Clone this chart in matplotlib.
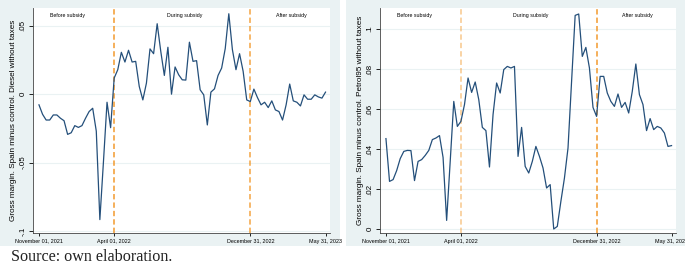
import numpy as np
import pandas as pd
import matplotlib
matplotlib.use("Agg")
import matplotlib.pyplot as plt
import matplotlib.transforms as mtransforms

# Weekly series
diesel = [-0.0078, -0.0147, -0.0189, -0.0189, -0.0152, -0.0152, -0.0176, -0.0194,
          -0.0294, -0.0282, -0.0230, -0.0243, -0.0230, -0.0176, -0.0127, -0.0103,
          -0.0270, -0.0917, -0.0495, -0.0059, -0.0245, 0.0118, 0.0179, 0.0306,
          0.0235, 0.0321, 0.0235, 0.0240, 0.0056, -0.0042, 0.0081, 0.0331,
          0.0296, 0.0515, 0.0314, 0.0137, 0.0343, 0.0000, 0.0199, 0.0142,
          0.0105, 0.0103, 0.0380, 0.0240, 0.0245, 0.0032, -0.0005, -0.0225,
          0.0015, 0.0039, 0.0137, 0.0191, 0.0333, 0.0588, 0.0326, 0.0179,
          0.0296, 0.0167, -0.0042, -0.0054, 0.0037, -0.0025, -0.0078, -0.0059,
          -0.0098, -0.0049, -0.0115, -0.0127, -0.0189, -0.0078, 0.0074, -0.0049,
          -0.0059, -0.0086, -0.0005, -0.0037, -0.0037, -0.0005, -0.0020, -0.0029,
          0.0015]
petrol = [0.0452, 0.0238, 0.0247, 0.0292, 0.0352, 0.0388, 0.0393, 0.0392,
          0.0242, 0.0338, 0.0347, 0.0368, 0.0393, 0.0447, 0.0455, 0.0467,
          0.0358, 0.0043, 0.0338, 0.0638, 0.0513, 0.0538, 0.0622, 0.0755,
          0.0683, 0.0735, 0.0647, 0.0508, 0.0492, 0.0310, 0.0572, 0.0730,
          0.0680, 0.0797, 0.0813, 0.0805, 0.0813, 0.0363, 0.0508, 0.0313,
          0.0280, 0.0338, 0.0413, 0.0363, 0.0305, 0.0205, 0.0222, 0.0000,
          0.0013, 0.0138, 0.0255, 0.0405, 0.0738, 0.1068, 0.1075, 0.0863,
          0.0908, 0.0805, 0.0608, 0.0563, 0.0763, 0.0763, 0.0680, 0.0638,
          0.0613, 0.0675, 0.0608, 0.0633, 0.0580, 0.0688, 0.0825, 0.0672,
          0.0622, 0.0492, 0.0552, 0.0497, 0.0513, 0.0505, 0.0480, 0.0413,
          0.0417]
dates = pd.date_range("2021-11-01", "2023-05-31", periods=len(diesel))

period_breaks = ["2022-04-01", "2022-12-31"]
xtick_dates = ["2021-11-01", "2022-04-01", "2022-12-31", "2023-05-31"]
xtick_labels = ["November 01, 2021", "April 01, 2022", "December 31, 2022", "May 31, 2023"]
period_names = ["Before subsidy", "During subsidy", "After subsidy"]
period_label_dates = ["2021-12-28", "2022-08-20", "2023-03-24"]

diesel_yticks = [0.05, 0, -0.05, -0.1]
diesel_ylabels = [".05", "0", "-.05", "-.1"]
petrol_yticks = [0, 0.02, 0.04, 0.06, 0.08, 0.1]
petrol_ylabels = ["0", ".02", ".04", ".06", ".08", ".1"]

BG = "#EAF2F3"
NAVY = "#244F7A"
ORANGE = "#F29A2E"

plt.rcParams["font.family"] = ["Liberation Sans", "DejaVu Sans"]

W, H = 685, 268
fig = plt.figure(figsize=(W / 100, H / 100), dpi=100)
fig.patch.set_facecolor("white")

# panel backgrounds as empty axes sitting behind the plots
for x0, x1 in [(0, 340), (346, 685)]:
    bg = fig.add_axes([x0 / W, (H - 246) / H, (x1 - x0) / W, 246 / H], zorder=-5)
    bg.set_facecolor(BG)
    bg.set_xticks([])
    bg.set_yticks([])
    for s in bg.spines.values():
        s.set_visible(False)


def panel(px0, px1, series, yticks, ylabels, ylim, ylabel, break_alphas):
    ax = fig.add_axes([px0 / W, (H - 233) / H, (px1 - px0) / W, (233 - 8) / H])
    ax.set_facecolor("white")
    ax.set_yticks(yticks)
    ax.set_yticklabels(ylabels, rotation=90, va="center")
    ax.yaxis.grid(True, color=BG, lw=0.8)
    ax.set_axisbelow(True)
    ax.plot(dates, series, color=NAVY, lw=0.9, zorder=3)
    for d, a in zip(period_breaks, break_alphas):
        ax.axvline(pd.Timestamp(d), color=ORANGE, lw=1.1, ls=(0, (3.5, 2)),
                   alpha=a, zorder=2)
    ax.set_xlim(pd.Timestamp("2021-10-20"), pd.Timestamp("2023-06-09"))
    ax.set_ylim(*ylim)
    ax.set_xticks([pd.Timestamp(d) for d in xtick_dates])
    ax.set_xticklabels(xtick_labels, fontsize=3.9)
    ax.tick_params(axis="y", labelsize=5.8, length=3, width=0.6, pad=1.5)
    ax.tick_params(axis="x", length=2.5, width=0.6, pad=1.5)
    for s in ["top", "right"]:
        ax.spines[s].set_visible(False)
    for s in ["left", "bottom"]:
        ax.spines[s].set_linewidth(0.6)
        ax.spines[s].set_color("#444444")
    ax.set_ylabel(ylabel, fontsize=5.9, labelpad=2)
    trans = mtransforms.blended_transform_factory(ax.transData, ax.transAxes)
    for name, d in zip(period_names, period_label_dates):
        ax.text(pd.Timestamp(d), 0.965, name, transform=trans, fontsize=3.8,
                ha="center", va="center")
    return ax


panel(33, 330, diesel, diesel_yticks, diesel_ylabels, (-0.1015, 0.063),
      "Gross margin. Spain minus control. Diesel without taxes", [1.0, 0.9])
panel(380, 676, petrol, petrol_yticks, petrol_ylabels, (-0.002, 0.1105),
      "Gross margin. Spain minus control. Petrol95 without taxes", [0.55, 1.0])

fig.text(11 / W, (H - 261) / H, "Source: own elaboration.",
         family=["Liberation Serif", "DejaVu Serif"], fontsize=11.6,
         color="#222222", ha="left", va="baseline")

fig.savefig("out.png", dpi=100)
